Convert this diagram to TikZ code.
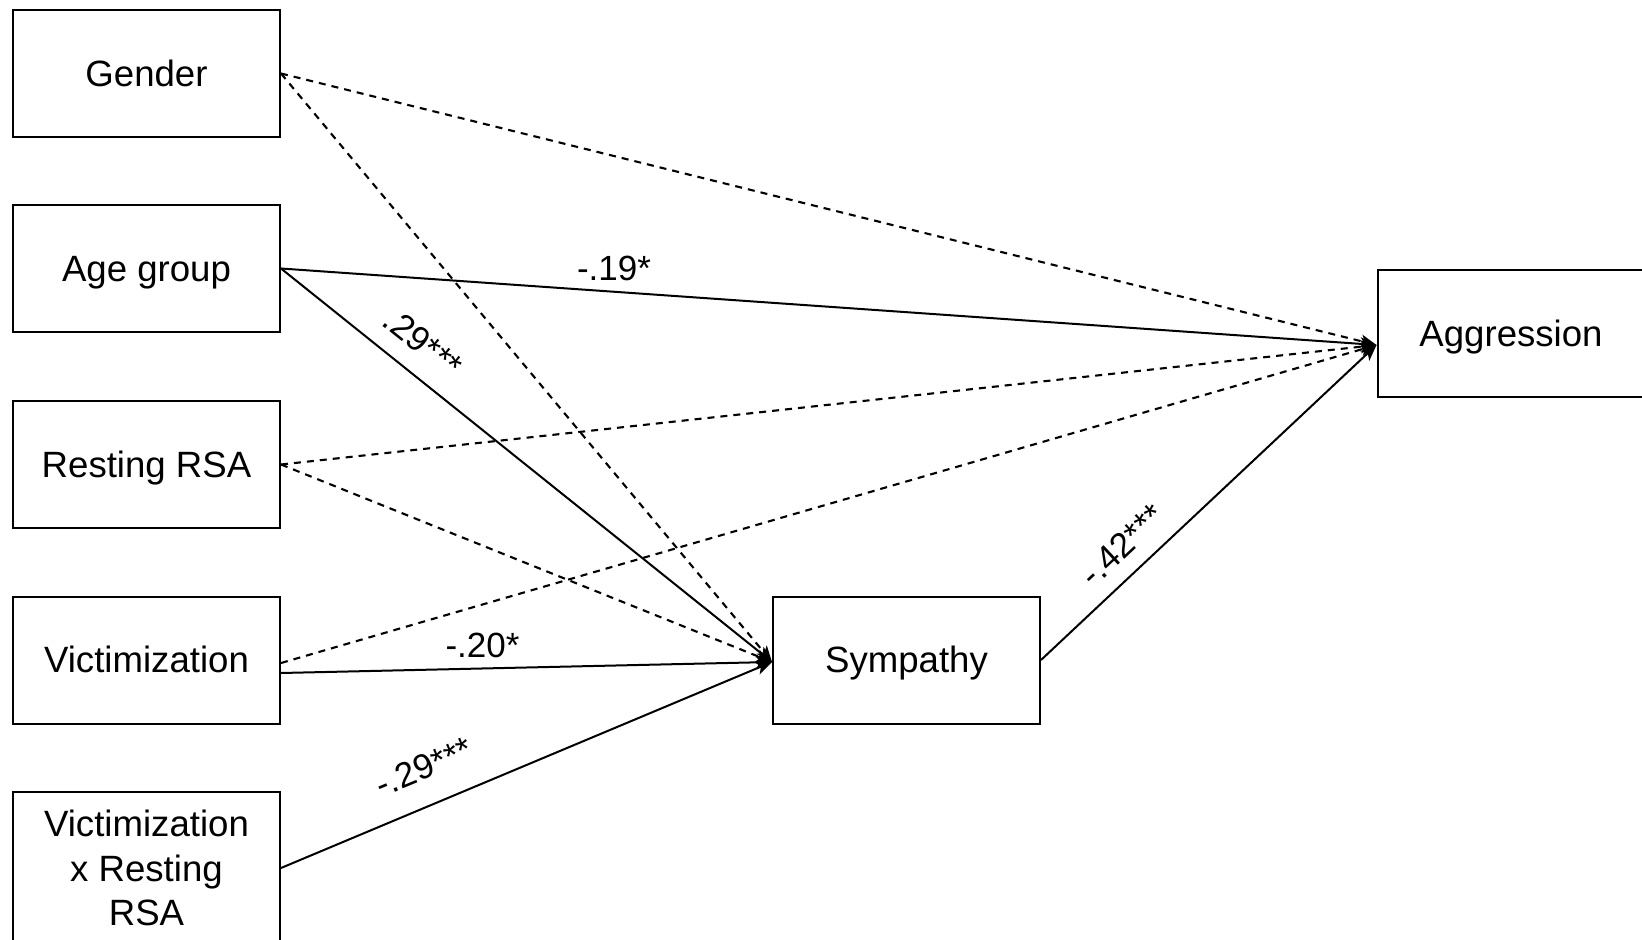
\documentclass[tikz,border=0pt]{standalone}
\usepackage{fontspec}
\setmainfont{Liberation Sans}
\usetikzlibrary{arrows.meta,calc}
\begin{document}
\begin{tikzpicture}[x=0.5pt,y=-0.5pt,
  box/.style={draw,line width=1pt,minimum width=133.5pt,minimum height=63.5pt,inner sep=0pt,
    font=\fontsize{18.3}{22.2}\selectfont,align=center},
  onebox/.style={box,text height=13.2pt,text depth=0.6pt},
  solidarrow/.style={line width=1pt,-{Stealth[length=8pt,width=6.5pt,inset=2pt]}},
  dasharrow/.style={line width=1.05pt,dash pattern=on 3.5pt off 3pt,-{Stealth[length=8pt,width=6.5pt,inset=2pt]}},
  coef/.style={font=\fontsize{17.5}{20}\selectfont,inner sep=0pt}]
\useasboundingbox (0,0) rectangle (1642,940);
\fill[white] (0,0) rectangle (1642,940);
\clip (0,0) rectangle (1642,940);
\node[onebox] (gen) at (146.5,73.5) {Gender};
\node[onebox] (age) at (146.5,268.5) {Age group};
\node[onebox] (rsa) at (146.5,464.5) {Resting RSA};
\node[onebox] (vic) at (146.5,660) {Victimization};
\node[box,minimum height=76pt] (vxr) at (146.5,868) {Victimization\\x Resting\\RSA};
\node[onebox] (sym) at (906.5,660) {Sympathy};
\node[onebox] (agg) at (1511,333.5) {Aggression};
\coordinate (aggIn) at ($(agg.west)+(0,11.5)$);
\coordinate (symIn) at ($(sym.west)+(0,2)$);
\coordinate (vicD) at ($(vic.east)+(0,3)$);
\coordinate (vicS) at ($(vic.east)+(0,13)$);
% dashed paths
\draw[dasharrow] (gen.east) -- (aggIn);
\draw[dasharrow] (gen.east) -- (symIn);
\draw[dasharrow] (rsa.east) -- (aggIn);
\draw[dasharrow] (rsa.east) -- (symIn);
\draw[dasharrow] (vicD) -- (aggIn);
% solid paths
\draw[solidarrow] (age.east) -- (aggIn);
\draw[solidarrow] (age.east) -- (symIn);
\draw[solidarrow] (vicS) -- (symIn);
\draw[solidarrow] (vxr.east) -- (symIn);
\draw[solidarrow] (sym.east) -- (aggIn);
% coefficients
\node[coef] (l19) at (614,268) {-.19*};
\node[coef,rotate=-38.6] (l29a) at (423,343) {.29***};
\node[coef] (l20) at (482.5,645) {-.20*};
\node[coef,rotate=22.5] (l29b) at (424,767) {-.29***};
\node[coef,rotate=43.2] (l42) at (1122,545) {-.42***};
\end{tikzpicture}
\end{document}
